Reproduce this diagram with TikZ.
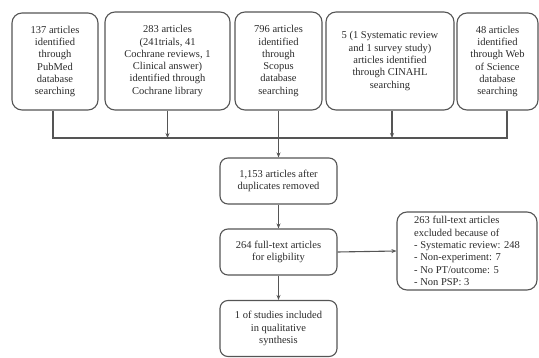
\documentclass[tikz,border=0pt]{standalone}
\usepackage{fontspec}
\setmainfont{Liberation Serif}
\usetikzlibrary{arrows.meta}
\definecolor{linegray}{HTML}{555555}
\definecolor{textgray}{HTML}{2A2A2A}
\begin{document}
\begin{tikzpicture}[x=1pt,y=-1pt,
  box/.style={draw=linegray,line width=1.1pt,rounded corners=10pt,align=center,
    font=\fontsize{10.5}{12.3}\selectfont,text=textgray,inner sep=2pt},
  conn/.style={draw=linegray,line width=1.1pt},
  arr/.style={conn,-{Stealth[length=5pt,width=4pt]}}]
\useasboundingbox (0,0) rectangle (539,358);
\node[box,minimum width=86pt,minimum height=97pt] (b1) at (55,61.5)
  {137 articles\\identified\\through\\PubMed\\database\\searching};
\node[box,minimum width=125pt,minimum height=98pt] (b2) at (167.5,61)
  {283 articles\\(241trials, 41\\Cochrane reviews, 1\\Clinical answer)\\identified through\\Cochrane library};
\node[box,minimum width=87pt,minimum height=98pt] (b3) at (278.5,61)
  {796 articles\\identified\\through\\Scopus\\database\\searching};
\node[box,minimum width=128pt,minimum height=98pt] (b4) at (390,61)
  {5 (1 Systematic review\\and 1 survey study)\\articles identified\\through CINAHL\\searching};
\node[box,minimum width=81pt,minimum height=97pt] (b5) at (497.5,61.5)
  {48 articles\\identified\\through Web\\of Science\\database\\searching};
\node[box,minimum width=117pt,minimum height=46pt,rounded corners=8pt] (dup) at (278.5,181)
  {1,153 articles after\\duplicates removed};
\node[box,minimum width=117pt,minimum height=46pt,rounded corners=8pt] (full) at (278.5,252)
  {264 full-text articles\\for eligbility};
\node[box,minimum width=117pt,minimum height=56pt,rounded corners=8pt] (incl) at (278.5,328.5)
  {1 of studies included\\in qualitative\\synthesis};
\node[box,minimum width=140pt,minimum height=78pt,align=left] (excl) at (467,251)
  {263 full-text articles\\excluded because of\\- Systematic review: 248\\- Non-experiment: 7\\- No PT/outcome: 5\\- Non PSP: 3};
\coordinate (h1) at (53,138);
\coordinate (h5) at (507,138);
\draw[conn] (b1.south -| h1) -- (h1) -- (h5) -- (b5.south -| h5);
\draw[arr] (b2.south) -- (b2.south |- h1);
\draw[arr] (b4.south -| 392,0) -- (392,138);
\draw[arr] (b3.south) -- (dup.north);
\draw[arr] (dup.south) -- (full.north);
\draw[arr] (full.south) -- (incl.north);
\draw[arr] (full.east) -- (excl.west);
\end{tikzpicture}
\end{document}
